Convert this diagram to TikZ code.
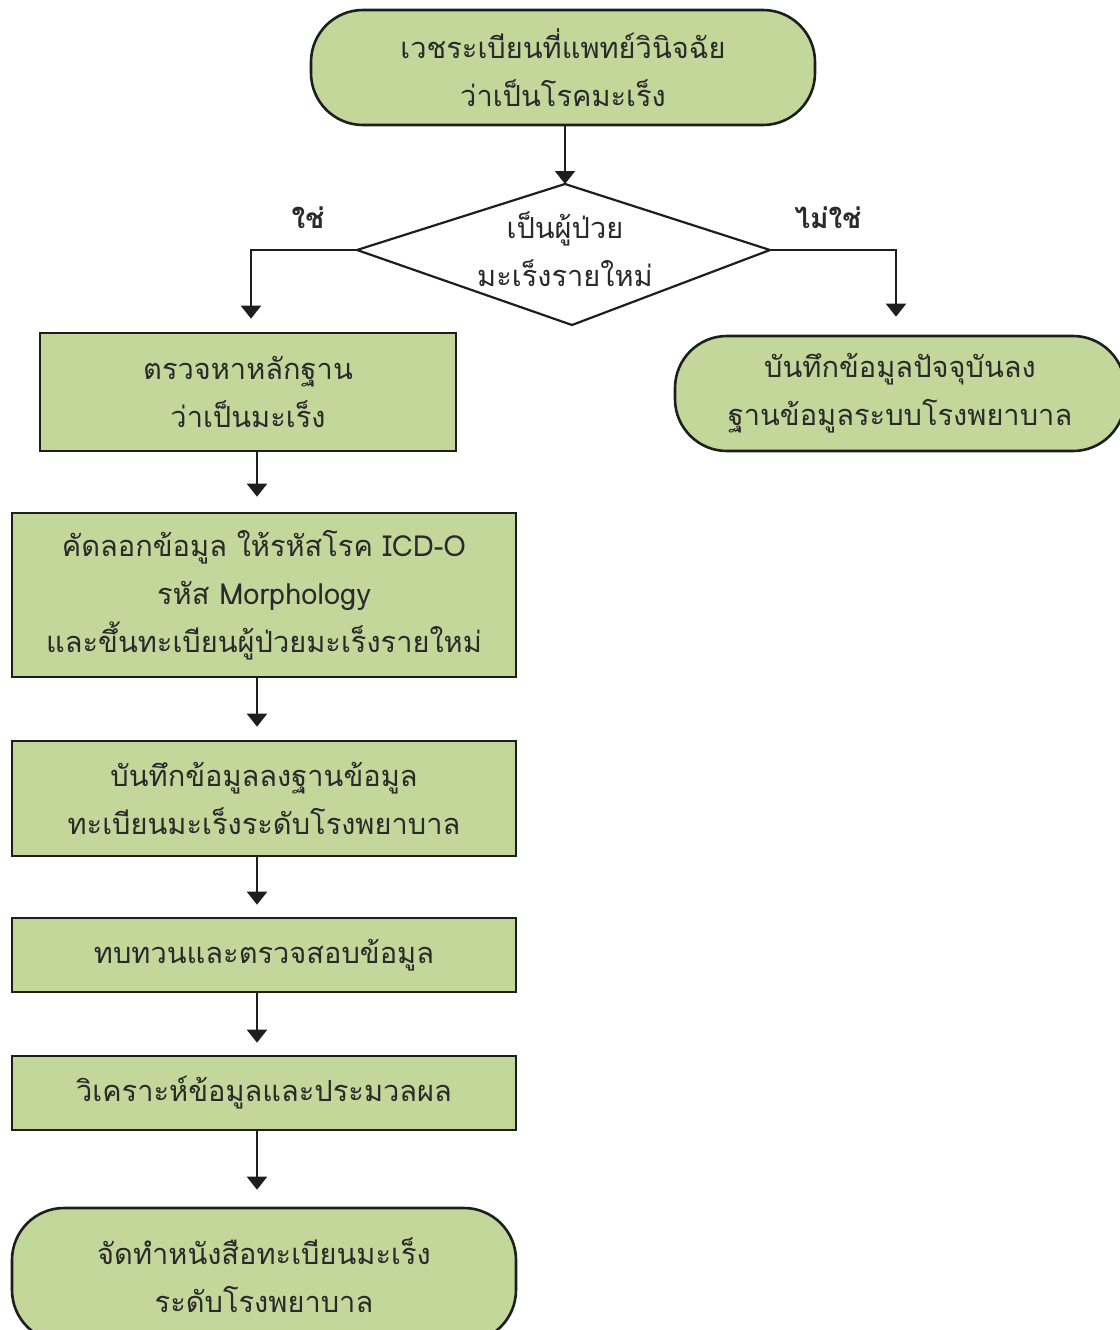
\documentclass[tikz,border=0pt]{standalone}
\usepackage{fontspec}
\setmainfont[Script=Thai]{Loma}
\usetikzlibrary{arrows.meta}
\definecolor{boxgreen}{HTML}{C4D79B}
\definecolor{edge}{HTML}{1E1E1E}
\definecolor{txt}{HTML}{2A2A2A}
\tikzset{
  base/.style={draw=edge, line width=2.6pt, fill=boxgreen, text=txt, align=center,
    font=\fontsize{29}{48}\selectfont, inner sep=0pt},
  procbox/.style={base, rectangle, minimum width=504pt},
  termbox/.style={base, rectangle, rounded corners=52pt},
  decline/.style={draw=edge, line width=2.2pt, fill=white, line join=miter},
  dectext/.style={text=txt, align=center, inner sep=0pt, font=\fontsize{29}{48}\selectfont},
  arr/.style={draw=edge, line width=2pt, -{Triangle[width=20pt,length=13pt]}},
  lbl/.style={text=txt, font=\fontsize{28}{32}\selectfont\bfseries},
}
\begin{document}
\begin{tikzpicture}[x=1pt,y=-1pt]
\useasboundingbox (0,0) rectangle (1119,1330);
\node[termbox, minimum width=504pt, minimum height=115pt] (top) at (563,67.5)
  {เวชระเบียนที่แพทย์วินิจฉัย\\ว่าเป็นโรคมะเร็ง};
% decision diamond
\coordinate (dt) at (565,184);
\coordinate (dl) at (357,250);
\coordinate (dr) at (770,250);
\coordinate (db) at (572,325);
\path[decline] (dt) -- (dr) -- (db) -- (dl) -- cycle;
\node[dectext] (dec) at (565,249) {เป็นผู้ป่วย\\มะเร็งรายใหม่};
\node[procbox, minimum width=416pt, minimum height=118pt] (a) at (248,392)
  {ตรวจหาหลักฐาน\\ว่าเป็นมะเร็ง};
\node[termbox, minimum width=450pt, minimum height=115pt] (r) at (900,393.5)
  {บันทึกข้อมูลปัจจุบันลง\\ฐานข้อมูลระบบโรงพยาบาล};
\node[procbox, minimum height=164pt] (b) at (264,595)
  {คัดลอกข้อมูล ให้รหัสโรค ICD-O\\รหัส Morphology\\และขึ้นทะเบียนผู้ป่วยมะเร็งรายใหม่};
\node[procbox, minimum height=115pt] (c) at (264,798.5)
  {บันทึกข้อมูลลงฐานข้อมูล\\ทะเบียนมะเร็งระดับโรงพยาบาล};
\node[procbox, minimum height=74pt] (d) at (264,955) {ทบทวนและตรวจสอบข้อมูล};
\node[procbox, minimum height=74pt] (e) at (264,1093) {วิเคราะห์ข้อมูลและประมวลผล};
\node[termbox, minimum width=504pt, minimum height=134pt] (f) at (264,1275)
  {จัดทำหนังสือทะเบียนมะเร็ง\\ระดับโรงพยาบาล};
\node[lbl] (yes) at (308,218) {ใช่};
\node[lbl] (no) at (828,218) {ไม่ใช่};
\coordinate (colx) at (257,0);
\coordinate (lx) at (251,0);
\coordinate (rx) at (896,0);
\draw[arr] (top.south -| dt) -- (dt);
\draw[arr, shorten >=13pt] (dl) -| (a.north -| lx);
\draw[arr, shorten >=18pt] (dr) -| (r.north -| rx);
\draw[arr, shorten >=15pt] (a.south -| colx) -- (b.north -| colx);
\draw[arr, shorten >=13pt] (b.south -| colx) -- (c.north -| colx);
\draw[arr, shorten >=12pt] (c.south -| colx) -- (d.north -| colx);
\draw[arr, shorten >=12pt] (d.south -| colx) -- (e.north -| colx);
\draw[arr, shorten >=17pt] (e.south -| colx) -- (f.north -| colx);
\end{tikzpicture}
\end{document}
